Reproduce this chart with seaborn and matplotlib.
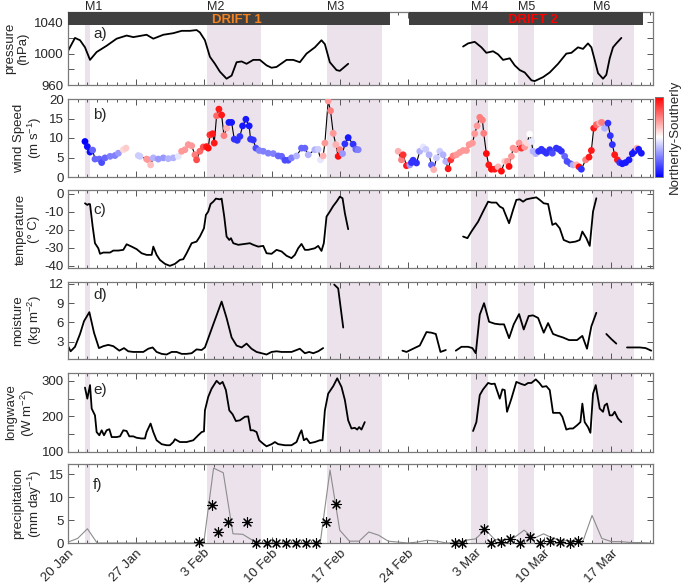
import numpy as np
import pandas as pd
import matplotlib
matplotlib.use("Agg")
import matplotlib.pyplot as plt
import seaborn as sns
from matplotlib.colors import Normalize
from matplotlib.cm import ScalarMappable
from matplotlib.transforms import blended_transform_factory

# ------------------------------------------------------------------ data
tick_days = [0, 7, 14, 21, 28, 35, 42, 49, 56]
tick_labels = ['20 Jan', '27 Jan', '3 Feb', '10 Feb', '17 Feb', '24 Feb', '3 Mar', '10 Mar', '17 Mar']

event_names = ['M1', 'M2', 'M3', 'M4', 'M5', 'M6']
event_start = [1.75, 14.3, 26.7, 41.5, 46.4, 54.1]
event_end = [2.3, 19.9, 32.4, 43.3, 48.0, 58.3]

drift_names = ['DRIFT 1', 'DRIFT 2']
drift_start = [0.0, 35.1]
drift_end = [33.2, 59.3]
drift_colors = ['#F58220', '#FF0000']
drift_label_day = [17.4, 47.9]

# pressure (hPa)
pressure_day_1 = [0.03, 0.72, 1.24, 1.75, 2.27, 2.95, 3.98, 5.01, 6.04, 6.73, 8.10, 8.79, 9.82, 10.85,
                  11.71, 12.57, 13.25, 13.59, 14.11, 14.62, 15.14, 15.65, 16.34, 16.86, 17.37, 17.89,
                  18.40, 19.09, 19.77, 20.46, 20.97, 21.49, 22.52, 23.21, 23.89, 24.58, 25.44, 26.12,
                  26.47, 26.98, 27.67, 28.01, 28.87]
pressure_val_1 = [1004, 1020, 1017, 1008, 992, 1002, 1010, 1019, 1023, 1021, 1024, 1019, 1024, 1026,
                  1029, 1029, 1030, 1027, 1017, 996, 987, 977, 968, 972, 989, 990,
                  987, 992, 992, 985, 982, 983, 992, 992, 989, 1000, 1008, 1017,
                  1012, 989, 979, 978, 987]
pressure_day_2 = [40.71, 41.23, 41.91, 42.60, 43.11, 43.80, 44.32, 44.83, 45.52, 46.03, 46.55, 47.06,
                  47.75, 48.09, 48.95, 49.64, 50.50, 51.35, 51.87, 52.55, 53.07, 53.58, 53.93, 54.27,
                  54.62, 55.13, 55.47, 55.82, 56.16, 56.50, 57.02]
pressure_val_2 = [1009, 1013, 1015, 1008, 1001, 1003, 999, 992, 994, 985, 979, 976,
                  966, 965, 970, 976, 987, 1000, 1001, 1008, 1006, 1013, 1008, 992,
                  975, 968, 973, 994, 1008, 1013, 1020]

# wind speed (m/s) and northerly(-1) / southerly(+1) index
wind_day_1 = [1.75, 1.99, 2.27, 2.54, 2.78, 3.23, 3.47, 3.81, 4.33, 4.84, 5.19, 5.70, 5.97]
wind_val_1 = [9.1, 7.8, 6.4, 6.9, 4.6, 4.6, 3.7, 4.9, 5.3, 5.5, 6.1, 7.0, 7.4]
wind_dir_1 = [-1, -0.95, -0.95, -0.6, -0.6, -0.6, -0.7, -0.6, -0.5, -0.5, -0.4, 0.15, 0.2]

wind_day_2 = [7.24, 7.42, 8.10, 8.27, 8.51, 8.79, 9.30, 9.82, 10.33, 10.85,
              11.36, 11.71, 12.05, 12.39, 12.74, 13.08, 13.25, 13.59, 13.94, 14.28,
              14.45, 14.62, 14.90, 15.07, 15.31, 15.55, 15.83, 16.07, 16.34, 16.58,
              16.86, 17.13, 17.44, 17.71, 17.99, 18.33, 18.67, 18.81, 19.09, 19.36,
              19.70, 20.12, 20.63, 21.15, 21.66, 22.01, 22.35, 22.69, 23.03, 23.55,
              24.06, 24.41, 24.75, 25.44, 25.78, 26.02, 26.29, 26.47, 26.81, 27.05,
              27.33, 27.60, 27.84, 28.01, 28.29, 28.53, 28.87, 29.38, 29.66, 29.90]
wind_val_2 = [5.5, 5.3, 4.6, 4.4, 3.1, 4.9, 4.6, 4.9, 4.7, 4.9,
              5.3, 6.6, 7.0, 8.3, 8.0, 5.7, 4.4, 6.6, 7.7, 7.8,
              7.4, 10.8, 11.1, 8.7, 15.7, 17.4, 15.9, 10.6, 12.5, 14.0,
              14.0, 9.7, 9.4, 10.4, 13.1, 14.8, 13.1, 9.7, 9.5, 7.4,
              6.8, 6.6, 6.1, 6.0, 5.4, 5.3, 4.3, 4.3, 4.9, 5.4,
              7.4, 7.4, 5.7, 7.0, 7.1, 4.4, 5.4, 8.7, 19.5, 17.0,
              11.2, 8.3, 5.3, 7.0, 6.0, 8.5, 10.1, 8.4, 7.1, 7.0]
wind_dir_2 = [-0.2, -0.2, 0.4, 0.4, 0.25, -0.3, -0.4, -0.4, -0.3, -0.3,
              -0.1, 0.4, 0.4, 0.4, 0.4, 0.5, 0.7, 0.6, 0.7, 0.9,
              0.95, 0.8, 0.9, 0.9, 0.6, 0.9, 0.9, 0.5, 0.3, -0.9,
              -0.9, -0.8, -0.8, -0.8, -0.9, -0.9, -0.9, -0.8, -0.8, -0.7,
              -0.5, -0.5, -0.5, -0.5, -0.6, -0.6, -0.7, -0.7, -0.5, -0.3,
              -0.6, -0.6, -0.3, -0.3, -0.2, -0.1, 0.3, 0.4, 0.4, 0.5,
              0.4, 0.3, 0.95, 0.5, -0.4, -0.8, -0.9, -0.8, -0.6, -0.5]

wind_day_3 = [34.02, 34.36, 34.53, 34.88, 35.22, 35.39, 35.56, 35.91, 36.25, 36.59,
              36.87, 37.21, 37.45, 37.69, 37.97, 38.31, 38.65, 38.93, 39.17, 39.44,
              39.68, 40.03, 40.37, 40.71, 41.06, 41.33, 41.67, 41.91, 42.15, 42.43,
              42.70, 42.84, 43.11, 43.36, 43.63, 43.97, 44.32, 44.66, 45.00, 45.28,
              45.45, 45.69, 45.86, 46.14, 46.48, 46.72, 47.06, 47.30, 47.58, 47.75,
              47.92, 48.20, 48.50, 48.78, 49.02, 49.29, 49.64, 49.91, 50.32, 50.60,
              50.84, 51.18, 51.42, 51.77, 52.04, 52.38, 52.66, 52.90, 53.34, 53.69,
              53.93, 54.17, 54.44, 54.79, 54.99, 55.30, 55.64, 55.88, 56.09, 56.33,
              56.61, 56.85, 57.12, 57.46, 57.81, 58.15, 58.39, 58.63, 58.80, 59.08]
wind_val_3 = [6.6, 4.4, 5.7, 2.9, 3.1, 3.7, 4.3, 3.6, 6.6, 7.7,
              7.1, 5.7, 3.1, 1.9, 4.9, 6.6, 5.7, 4.0, 2.1, 4.4,
              5.4, 5.7, 6.3, 6.8, 6.8, 8.3, 8.7, 11.1, 13.1, 15.3,
              14.6, 11.2, 6.0, 3.1, 2.0, 2.0, 2.6, 1.5, 4.0, 4.0,
              2.7, 5.3, 7.4, 7.0, 8.7, 7.4, 7.7, 8.7, 11.0, 9.1,
              6.6, 6.0, 6.6, 7.1, 6.6, 6.1, 7.0, 6.1, 7.4, 7.1,
              6.6, 5.3, 4.0, 3.4, 3.1, 3.1, 2.6, 2.0, 4.4, 5.1,
              6.8, 12.5, 13.4, 13.8, 14.0, 12.5, 13.8, 10.6, 8.3, 5.7,
              4.4, 3.7, 3.4, 3.7, 4.4, 6.0, 6.6, 7.4, 7.1, 6.1]
wind_dir_3 = [0.3, 0.5, 0.8, 0.9, -0.4, -0.8, -0.8, -0.8, -0.3, -0.1,
              -0.2, -0.3, -0.6, 0.3, -0.2, -0.2, -0.3, -0.3, 0.9, 0.8,
              0.5, 0.4, 0.4, 0.4, 0.4, 0.4, 0.4, 0.4, 0.4, 0.5,
              0.5, 0.5, 0.95, 0.9, 0.95, 0.9, 0.3, 0.95, 0.2, 0.4,
              0.95, 0.4, 0.4, 0.4, 0.4, 0.8, 0.4, 0.15, 0.0, -0.1,
              -0.3, -0.3, -0.8, -0.8, -0.8, -0.8, -0.8, -0.7, -0.8, -0.8,
              -0.8, -0.6, -0.7, -0.7, -0.3, 0.3, 0.95, -0.8, 0.5, 0.9,
              0.9, 0.9, 0.6, 0.3, 0.5, -0.3, -0.8, -0.8, -0.8, 0.9,
              0.9, -0.8, -0.9, -0.9, -0.9, -0.9, -0.9, 0.3, -0.9, -0.9]

# 2 m temperature (deg C)
temp_day_1 = [1.75, 1.99, 2.13, 2.27, 2.54, 2.78, 3.12, 3.30, 3.64, 4.33, 4.67, 5.19, 5.70, 6.04,
              6.56, 7.07, 7.59, 8.10, 8.62, 8.79, 9.13, 9.47, 9.99, 10.50, 11.02, 11.53, 11.88,
              12.22, 12.74, 13.25, 13.59, 14.01, 14.21, 14.45, 14.69, 14.97, 15.24, 15.65, 15.83,
              16.10, 16.34, 16.62, 16.79, 17.03, 17.54, 18.23, 18.74, 19.09, 19.60, 20.12, 20.46,
              20.98, 21.49, 22.01, 22.52, 23.03, 23.38, 23.72, 24.06, 24.41, 24.75, 25.44, 25.78,
              26.12, 26.36, 26.64, 26.98, 27.33, 27.67, 28.01, 28.29, 28.53, 28.87]
temp_val_1 = [-5.2, -6.1, -5.6, -5.7, -18.1, -27.4, -30.2, -33.3, -32.6, -32.6, -31.5, -31.5, -31.1, -28.0,
              -29.3, -30.7, -33.0, -33.9, -33.9, -29.3, -33.9, -36.7, -38.9, -40.0, -38.9, -36.7, -36.3,
              -33.0, -27.4, -26.5, -23.7, -19.1, -11.7, -9.8, -5.6, -4.3, -2.6, -3.0, -2.6,
              -12.6, -23.7, -25.6, -24.6, -27.4, -28.3, -27.8, -27.4, -28.3, -29.3, -28.9, -33.0,
              -33.3, -31.1, -32.0, -34.4, -35.7, -33.9, -30.2, -27.8, -31.1, -31.1, -30.2, -28.9,
              -31.7, -27.4, -12.6, -9.8, -6.7, -4.3, -1.5, -2.4, -10.7, -19.6]
temp_day_2 = [40.71, 41.16, 41.57, 42.26, 42.77, 43.29, 43.63, 44.14, 44.49, 44.83, 45.17, 45.45,
              45.86, 46.20, 46.55, 46.89, 47.23, 47.75, 48.26, 48.61, 49.02, 49.47, 49.91, 50.25,
              50.67, 51.08, 51.70, 52.31, 52.73, 53.00, 53.41, 53.76, 54.10, 54.44]
temp_val_2 = [-23.7, -24.6, -20.9, -15.4, -9.8, -4.3, -4.8, -4.8, -7.0, -8.0, -12.6, -16.3,
              -8.9, -3.3, -3.0, -4.3, -3.0, -2.4, -1.9, -3.3, -5.2, -5.6, -17.2, -16.3,
              -19.1, -25.6, -27.0, -26.5, -25.6, -20.9, -24.6, -28.9, -9.8, -2.4]

# integrated water vapour (kg m-2)
moist_day_1 = [0.04, 0.27, 0.72, 1.24, 1.65, 2.20, 2.68, 3.19, 3.64, 4.15, 4.67, 5.29, 5.77, 6.21,
               6.73, 7.24, 7.76, 8.27, 8.72, 9.13, 9.65, 10.16, 10.68, 11.19, 11.71, 12.22, 12.74,
               13.25, 13.77, 14.11, 14.97, 15.83, 16.34, 16.86, 17.37, 17.89, 18.40, 18.91, 19.43,
               19.94, 20.46, 20.98, 21.49, 22.01, 22.52, 23.03, 23.38, 23.89, 24.41, 24.85, 25.27,
               25.78, 26.29]
moist_val_1 = [2.2, 1.5, 2.2, 4.2, 6.2, 7.6, 4.4, 2.0, 2.3, 2.5, 2.3, 1.6, 2.0, 1.5,
               1.4, 1.4, 1.4, 1.9, 2.1, 1.4, 1.1, 1.0, 1.4, 1.4, 1.1, 1.1, 1.2,
               1.8, 1.7, 2.1, 5.7, 9.25, 6.7, 3.65, 2.4, 2.1, 2.7, 1.9, 1.4,
               1.2, 1.0, 1.4, 1.5, 1.4, 1.4, 1.4, 1.6, 1.9, 1.2, 1.4, 1.2,
               1.5, 2.0]
moist_day_2 = [27.43, 27.84, 28.36]
moist_val_2 = [11.9, 11.3, 5.2]
moist_day_3 = [34.46, 34.88, 35.56, 36.25, 36.94, 37.45, 37.90, 38.38, 38.93]
moist_val_3 = [1.6, 1.4, 1.9, 2.4, 4.5, 4.4, 4.2, 1.4, 1.7]
moist_day_4 = [39.96, 40.54, 41.23, 41.67, 42.02, 42.43, 42.87, 43.39, 43.97, 44.49, 44.93, 45.45,
               45.93, 46.48, 46.96, 47.47, 47.92, 48.44, 49.02, 49.47, 49.98, 50.50, 51.01, 51.63,
               52.45, 53.00, 53.48, 53.93, 54.44]
moist_val_4 = [1.6, 2.2, 2.2, 2.0, 1.2, 7.2, 9.0, 6.1, 5.8, 5.7, 5.7, 3.55,
               5.7, 7.3, 4.9, 7.0, 7.1, 6.7, 4.4, 5.9, 4.2, 3.9, 3.65, 3.25,
               3.25, 3.9, 1.9, 5.4, 7.5]
moist_day_5 = [55.47, 55.99, 56.50]
moist_val_5 = [4.2, 3.4, 2.7]
moist_day_6 = [57.60, 58.22, 58.91, 59.52, 60.10]
moist_val_6 = [2.1, 2.1, 2.1, 2.0, 1.6]

# downwelling longwave (W m-2)
lw_day_1 = [1.75, 1.99, 2.27, 2.44, 2.78, 2.95, 3.23, 3.47, 3.71, 3.98, 4.26, 4.50, 5.01, 5.36,
            5.70, 6.04, 6.32, 6.73, 7.07, 7.59, 7.93, 8.10, 8.51, 8.79, 9.13, 9.65, 10.16, 10.50,
            10.85, 11.02, 11.53, 12.22, 12.91, 13.42, 13.77, 14.01, 14.11, 14.45, 14.80, 15.31,
            15.65, 15.93, 16.27, 16.62, 16.96, 17.30, 17.71, 18.23, 18.57, 18.81, 19.09, 19.43,
            19.70, 20.12, 20.46, 20.98, 21.32, 21.66, 22.35, 23.03, 23.55, 23.89, 24.06, 24.30,
            24.58, 24.92, 25.44, 25.95, 26.23, 26.47, 26.81, 27.33, 27.74, 28.18, 28.53, 28.87,
            29.21, 29.55, 29.80, 30.00, 30.24, 30.58]
lw_val_1 = [281, 250, 288, 222, 203, 156, 147, 161, 147, 161, 164, 142, 142, 144,
            161, 159, 144, 144, 140, 138, 138, 156, 180, 156, 133, 122, 119, 119,
            128, 136, 128, 128, 133, 147, 156, 158, 217, 255, 278, 300,
            291, 297, 274, 217, 206, 187, 189, 199, 200, 161, 161, 156,
            133, 123, 116, 122, 128, 122, 119, 119, 128, 152, 161, 133,
            138, 125, 128, 133, 133, 217, 264, 285, 307, 283, 246, 189,
            166, 168, 163, 170, 163, 184]
lw_day_2 = [41.74, 42.08, 42.43, 42.77, 43.29, 43.63, 43.97, 44.49, 44.76, 45.00, 45.24, 45.69,
            46.20, 46.72, 47.06, 47.41, 47.75, 48.20, 48.54, 48.88, 49.29, 49.64, 49.98, 50.67,
            50.94, 51.35, 51.70, 52.04, 52.45, 52.80, 53.00, 53.24, 53.58, 53.83, 54.10, 54.38,
            54.79, 55.13, 55.30, 55.54, 55.82, 56.09, 56.33, 56.67, 57.02]
lw_val_2 = [159, 184, 260, 276, 294, 291, 292, 250, 276, 274, 213, 250,
            297, 291, 288, 294, 294, 304, 295, 283, 285, 274, 210, 210,
            199, 163, 166, 166, 175, 184, 236, 184, 170, 154, 264, 288,
            222, 213, 231, 236, 203, 203, 213, 194, 184]

# precipitation (mm/day): daily reanalysis line and observations (asterisks)
precip_day = list(range(61))
precip_model = [0.2, 1.0, 3.1, 0, 0, 0, 0, 0, 0, 0,
                0, 0, 0, 0, 0.2, 16.3, 15.3, 2.0, 1.9, 0.6,
                0, 0, 0, 0, 0, 0, 0.2, 15.9, 2.8, 0.4,
                0.4, 2.4, 1.7, 0.4, 0.2, 0, 0.2, 0.6, 0.4, 0,
                0, 0.6, 0.9, 2.9, 0.7, 0.7, 1.2, 2.8, 1.0, 2.0,
                1.0, 0.5, 0.5, 0, 6.0, 1.0, 0.3, 0.3, 0.1, 0.1, 0]
precip_obs_day = [13.53, 14.80, 15.49, 16.44, 18.40, 19.36, 20.46, 21.42, 22.45, 23.48, 24.51,
                  25.54, 26.57, 27.60, 39.85, 40.64, 42.84, 43.63, 44.59, 45.59, 46.55, 47.58,
                  48.61, 49.64, 50.67, 51.70, 52.55]
precip_obs = [0.2, 8.2, 2.4, 4.6, 4.6, 0, 0, 0, 0, 0, 0,
              0, 4.6, 8.4, 0, 0, 3.1, 0, 0.3, 0.9, 0, 1.2,
              0, 0.4, 0.2, 0, 0.4]

# ------------------------------------------------------------------ style
sns.set_theme(style="ticks")
plt.rcParams['font.family'] = ['Liberation Sans', 'DejaVu Sans']
plt.rcParams['mathtext.fontset'] = 'custom'
plt.rcParams['mathtext.rm'] = 'Liberation Sans'
plt.rcParams['mathtext.it'] = 'Liberation Sans:italic'
plt.rcParams['mathtext.bf'] = 'Liberation Sans:bold'
plt.rcParams['axes.unicode_minus'] = False

FS = 9.5
SHADE = '#ECE2EC'
SPINE = '#7a7a7a'


def seg_frame(segments):
    parts = [pd.DataFrame({'day': d, 'val': v, 'seg': i}) for i, (d, v) in enumerate(segments)]
    return pd.concat(parts, ignore_index=True)


fig = plt.figure(figsize=(6.85, 5.87), dpi=100)
left, width = 68 / 685, 585 / 685
boxes = [(12, 85), (99, 177), (190, 268), (282, 359), (373, 452), (464, 543)]
axes = []
for top, bot in boxes:
    axes.append(fig.add_axes([left, 1 - bot / 587, width, (bot - top) / 587]))

XMAX = 60.28
for ax in axes:
    ax.set_xlim(0, XMAX)
    for s, e in zip(event_start, event_end):
        ax.axvspan(s, e, color=SHADE, lw=0, zorder=0)
    ax.set_xticks(tick_days)
    ax.set_xticks(np.arange(0, 61, 1), minor=True)
    ax.set_xticklabels([])
    ax.tick_params(which='both', direction='in', top=True, right=True, color='#555555',
                   width=0.7, labelsize=FS, pad=3)
    ax.tick_params(which='major', length=4)
    ax.tick_params(which='minor', length=2.2)
    for sp in ax.spines.values():
        sp.set_color(SPINE)
        sp.set_linewidth(0.9)
    ax.set_xlabel('')

YL = dict(fontsize=FS, labelpad=3.5, linespacing=1.1)

# ---- a) pressure
ax = axes[0]
df = seg_frame([(pressure_day_1, pressure_val_1), (pressure_day_2, pressure_val_2)])
sns.lineplot(data=df, x='day', y='val', units='seg', estimator=None, sort=False,
             color='black', lw=1.3, ax=ax)
ax.set_ylim(960, 1053)
ax.set_yticks([960, 980, 1000, 1020, 1040])
ax.set_yticklabels(['960', '', '1000', '', '1040'])
for s, e in zip(drift_start, drift_end):
    ax.fill_between([s, e], 1036, 1053, color='#404040', lw=0, zorder=3)
for name, xd, c in zip(drift_names, drift_label_day, drift_colors):
    ax.text(xd, 1043.2, name, color=c, fontsize=FS, fontweight='bold',
            ha='center', va='center', zorder=4)
tr = blended_transform_factory(ax.transData, ax.transAxes)
for name, s in zip(event_names, event_start):
    ax.text(s, 1.032, name, transform=tr, ha='left', va='baseline', fontsize=FS - 0.5)
ax.set_ylabel('pressure\n(hPa)', **YL)

# ---- b) wind speed
ax = axes[1]
df = seg_frame([(wind_day_1, wind_val_1), (wind_day_2, wind_val_2), (wind_day_3, wind_val_3)])
df['dir'] = wind_dir_1 + wind_dir_2 + wind_dir_3
sns.lineplot(data=df, x='day', y='val', units='seg', estimator=None, sort=False,
             color='black', lw=0.8, ax=ax, zorder=2)
sns.scatterplot(data=df, x='day', y='val', hue='dir', palette='bwr', hue_norm=(-1, 1),
                s=24, linewidth=0, legend=False, ax=ax, zorder=3)
ax.set_ylim(0, 20)
ax.set_yticks([0, 5, 10, 15, 20])
ax.set_ylabel('wind Speed\n(m s$^{-1}$)', **YL)
cax = fig.add_axes([655 / 685, 1 - 177 / 587, 8 / 685, 80 / 587])
cb = fig.colorbar(ScalarMappable(norm=Normalize(-1, 1), cmap='bwr'), cax=cax)
cb.outline.set_edgecolor(SPINE)
cb.outline.set_linewidth(0.7)
cax.tick_params(labelright=False, length=2, width=0.6, color='#555555', direction='in')
cax.set_ylabel('Northerly-Southerly', fontsize=FS, labelpad=4)

# ---- c) temperature
ax = axes[2]
df = seg_frame([(temp_day_1, temp_val_1), (temp_day_2, temp_val_2)])
sns.lineplot(data=df, x='day', y='val', units='seg', estimator=None, sort=False,
             color='black', lw=1.3, ax=ax)
ax.set_ylim(-41.2, 2.2)
ax.set_yticks([-40, -30, -20, -10, 0])
ax.set_ylabel('temperature\n(° C)', **YL)

# ---- d) moisture
ax = axes[3]
df = seg_frame([(moist_day_1, moist_val_1), (moist_day_2, moist_val_2), (moist_day_3, moist_val_3),
                (moist_day_4, moist_val_4), (moist_day_5, moist_val_5), (moist_day_6, moist_val_6)])
sns.lineplot(data=df, x='day', y='val', units='seg', estimator=None, sort=False,
             color='black', lw=1.3, ax=ax)
ax.set_ylim(0.3, 12.3)
ax.set_yticks([3, 6, 9, 12])
ax.set_ylabel('moisture\n(kg m$^{-2}$)', **YL)

# ---- e) longwave
ax = axes[4]
df = seg_frame([(lw_day_1, lw_val_1), (lw_day_2, lw_val_2)])
sns.lineplot(data=df, x='day', y='val', units='seg', estimator=None, sort=False,
             color='black', lw=1.3, ax=ax)
ax.set_ylim(100, 322)
ax.set_yticks([100, 150, 200, 250, 300])
ax.set_yticklabels(['100', '', '200', '', '300'])
ax.set_ylabel('longwave\n(W m$^{-2}$)', **YL)

# ---- f) precipitation
ax = axes[5]
sns.lineplot(x=precip_day, y=precip_model, color='#8c8c8c', lw=0.8, ax=ax, zorder=2)
sns.scatterplot(x=precip_obs_day, y=precip_obs, marker=(8, 2, 0), color='black',
                edgecolor='black', s=50, linewidth=0.8, ax=ax, zorder=4, clip_on=False)
ax.set_ylim(0, 17.2)
ax.set_yticks([0, 5, 10, 15])
ax.set_ylabel('precipitation\n(mm day$^{-1}$)', **YL)
ax.set_xticklabels(tick_labels, rotation=45, ha='right', rotation_mode='anchor', fontsize=FS)

# panel letters
letter_y = [0.70, 0.79, 0.74, 0.83, 0.78, 0.73]
for ax, letter, ly in zip(axes, 'abcdef', letter_y):
    ax.text(0.043, ly, f'{letter})', transform=ax.transAxes, ha='left', va='center',
            fontsize=FS + 1.5, zorder=5)
    ax.set_xlabel('')

fig.savefig('out.png', dpi=100)
